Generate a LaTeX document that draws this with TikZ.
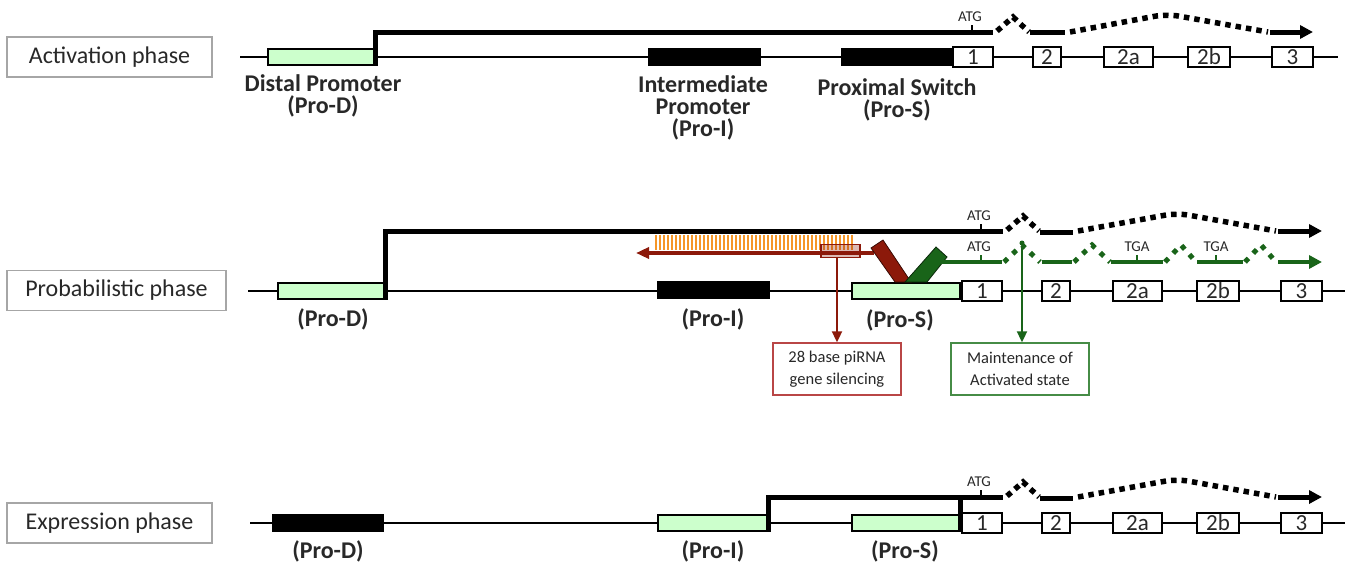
\documentclass[tikz,border=0pt]{standalone}
\usepackage{fontspec}
\setmainfont{Carlito}
\usetikzlibrary{arrows.meta}
\definecolor{lgreen}{RGB}{204,255,204}
\definecolor{dred}{RGB}{140,25,10}
\definecolor{dgreen}{RGB}{25,100,25}
\definecolor{hatchc}{RGB}{245,150,40}
\definecolor{boxred}{RGB}{185,70,70}
\definecolor{boxgreen}{RGB}{70,140,70}
\definecolor{txt}{RGB}{40,40,40}
\begin{document}
\begin{tikzpicture}[x=1pt,y=-1pt,
 phase/.style={draw=black!35,line width=1.2pt,minimum height=40pt,inner sep=0,font=\fontsize{24}{26}\selectfont,text=txt},
 dna/.style={line width=2pt},
 exon/.style={draw,line width=1.4pt,fill=white,minimum height=20pt,inner sep=0,font=\fontsize{23}{23}\selectfont,text=txt},
 promA/.style={draw,line width=1.6pt,fill=lgreen,minimum height=16pt,inner sep=0},
 promB/.style={draw,line width=1.6pt,fill=black,minimum height=16pt,inner sep=0},
 lab/.style={font=\bfseries\fontsize{24}{22}\selectfont,align=center,text=txt,inner sep=0},
 tx/.style={line width=5pt},
 dots/.style={line width=5.5pt,dash pattern=on 5.5pt off 5pt},
 gtx/.style={line width=4pt,dgreen},
 gdots/.style={line width=5pt,dgreen,dash pattern=on 5pt off 7pt},
 tick/.style={line width=1.2pt},
 small/.style={font=\fontsize{15}{15}\selectfont,text=txt,inner sep=0,anchor=south},
 tip/.style={-{Triangle[length=13pt,width=13pt]}},
 infobox/.style={line width=1.4pt,fill=white,minimum height=52pt,inner sep=0,align=center,font=\fontsize{16.5}{22}\selectfont,text=txt}
]
\useasboundingbox (0,0) rectangle (1355,570);

%================ Row 1: Activation phase
\node[phase,minimum width=205pt] (ph1) at (109.5,57) {Activation phase};
\coordinate (d1l) at (240,57); \coordinate (d1r) at (1338,57);
\draw[dna] (d1l) -- (d1r);
\node[promA,minimum width=107pt] (pd1) at (321.5,57) {};
\node[promB,minimum width=111pt] (pi1) at (704.5,57) {};
\node[promB,minimum width=111pt] (ps1) at (897.5,57) {};
\node[exon,minimum width=40pt] (e1a) at (973,57) {1};
\node[exon,minimum width=28pt] (e1b) at (1047,57) {2};
\node[exon,minimum width=49pt] (e1c) at (1128.5,57) {2a};
\node[exon,minimum width=42pt] (e1d) at (1209,57) {2b};
\node[exon,minimum width=41pt] (e1e) at (1292.5,57) {3};
\node[lab] (l1d) at (323,96) {Distal Promoter\\(Pro-D)};
\node[lab] (l1i) at (703,108) {Intermediate\\Promoter\\(Pro-I)};
\node[lab] (l1s) at (897,100) {Proximal Switch\\(Pro-S)};
% transcript
\coordinate (t1a) at (993,32);
\draw[tx] (pd1.south east) |- (t1a);
\coordinate (k1) at (972,32);
\draw[tick] (k1) -- ++(0,-7) coordinate (k1t);
\node[small] (atg1) at (970,22) {ATG};
\coordinate (s1a) at (997,31); \coordinate (s1p) at (1013,17); \coordinate (s1b) at (1029,32);
\draw[dots] (s1a) -- (s1p) -- (s1b);
\coordinate (x1a) at (1030,32); \coordinate (x1b) at (1065,32);
\draw[tx] (x1a) -- (x1b);
\coordinate (s1c) at (1070,32); \coordinate (s1q) at (1167,14); \coordinate (s1d) at (1268,32);
\draw[dots,rounded corners=12pt] (s1c) -- (s1q) -- (s1d);
\coordinate (x1c) at (1270,32); \coordinate (x1d) at (1313,32);
\draw[tx,tip] (x1c) -- (x1d);

%================ Row 2: Probabilistic phase
\node[phase,minimum width=219pt] (ph2) at (116.5,290.5) {Probabilistic phase};
\coordinate (d2l) at (248,291); \coordinate (d2r) at (1345,291);
\draw[dna] (d2l) -- (d2r);
\node[promA,minimum width=107pt] (pd2) at (331.5,291) {};
\node[promB,minimum width=111pt] (pi2) at (713.5,290) {};
% hatch
\foreach \x in {656,660,...,854} \draw[hatchc,line width=1.6pt] (\x,235) -- (\x,250);
\node[promA,minimum width=108pt] (ps2) at (906,291) {};
\node[exon,minimum width=40pt] (e2a) at (982,291) {1};
\node[exon,minimum width=28pt] (e2b) at (1056,291) {2};
\node[exon,minimum width=49pt] (e2c) at (1137.5,291) {2a};
\node[exon,minimum width=42pt] (e2d) at (1218,291) {2b};
\node[exon,minimum width=41pt] (e2e) at (1301.5,291) {3};
\node[lab] (l2d) at (333,319) {(Pro-D)};
\node[lab] (l2i) at (713,319) {(Pro-I)};
\node[lab] (l2s) at (900,320) {(Pro-S)};
% black transcript
\coordinate (t2a) at (1003,231);
\draw[tx] (pd2.south east) |- (t2a);
\coordinate (k2) at (981,231);
\draw[tick] (k2) -- ++(0,-7) coordinate (k2t);
\node[small] (atg2) at (979,221) {ATG};
\coordinate (s2a) at (1007,230); \coordinate (s2p) at (1023,216); \coordinate (s2b) at (1039,231);
\draw[dots] (s2a) -- (s2p) -- (s2b);
\coordinate (x2a) at (1040,232); \coordinate (x2b) at (1073,232);
\draw[tx] (x2a) -- (x2b);
\coordinate (s2c) at (1078,231); \coordinate (s2q) at (1177,213); \coordinate (s2d) at (1276,231);
\draw[dots,rounded corners=12pt] (s2c) -- (s2q) -- (s2d);
\coordinate (x2c) at (1278,231); \coordinate (x2d) at (1322,231);
\draw[tx,tip] (x2c) -- (x2d);
% red piRNA arrow
\coordinate (r0) at (874,253); \coordinate (r1) at (636,253);
\draw[dred,line width=3.5pt,-{Triangle[length=13pt,width=11pt]}] (r0) -- (r1);
\node[draw=dred,line width=1.6pt,fill=dred,fill opacity=0.3,draw opacity=1,minimum width=39pt,minimum height=13pt,inner sep=0] (sel) at (840.5,251) {};
% V bars
\filldraw[fill=dred,draw=black!60!dred,line width=0.8pt] (871,248) -- (883,240) -- (911,282) -- (895,282) -- cycle;
\filldraw[fill=dgreen,draw=black!60!dgreen,line width=0.8pt] (905,282) -- (936,247) -- (947,257) -- (927,282) -- cycle;
% green transcript
\coordinate (g0) at (940,262); \coordinate (g1) at (1002,262);
\draw[gtx] (g0) -- (g1);
\coordinate (gk1) at (981,262);
\draw[tick,dgreen] (gk1) -- ++(0,-7) coordinate (gk1t);
\node[small] (atg3) at (979,252) {ATG};
\draw[gdots] (1004,262) -- (1022,245) -- (1040,262);
\draw[gtx] (1042,262) -- (1072,262);
\draw[gdots] (1074,262) -- (1092,245) -- (1110,262);
\draw[gtx] (1111,262) -- (1163,262);
\coordinate (gk2) at (1137,262);
\draw[tick,dgreen] (gk2) -- ++(0,-7) coordinate (gk2t);
\node[small] (tga1) at (1137,252) {TGA};
\draw[gdots] (1165,262) -- (1181,245) -- (1196,262);
\draw[gtx] (1197,262) -- (1243,262);
\coordinate (gk3) at (1216,262);
\draw[tick,dgreen] (gk3) -- ++(0,-7) coordinate (gk3t);
\node[small] (tga2) at (1216,252) {TGA};
\draw[gdots] (1245,262) -- (1261,245) -- (1276,262);
\draw[gtx,tip] (1278,262) -- (1322,262);
% info boxes
\node[infobox,draw=boxred,minimum width=128pt] (pirna) at (837,369) {28 base piRNA\\gene silencing};
\node[infobox,draw=boxgreen,minimum width=138pt] (maint) at (1020,369) {Maintenance of\\Activated state};
\draw[dred,line width=2pt,-{Triangle[length=11pt,width=10pt]}] (sel.south -| pirna.north) -- (pirna.north);
\coordinate (gv) at (1022,246);
\draw[dgreen,line width=2pt,-{Triangle[length=11pt,width=10pt]}] (gv) -- (gv |- maint.north);
\fill[dgreen] (1022,243) circle (2.5pt);

%================ Row 3: Expression phase
\node[phase,minimum width=205pt] (ph3) at (109.5,523) {Expression phase};
\coordinate (d3l) at (250,523); \coordinate (d3r) at (1345,523);
\draw[dna] (d3l) -- (d3r);
\node[promB,minimum width=110pt] (pd3) at (328,523) {};
\node[promA,minimum width=110pt] (pi3) at (713,523) {};
\node[promA,minimum width=108pt] (ps3) at (906,523) {};
\node[exon,minimum width=40pt] (e3a) at (982,523) {1};
\node[exon,minimum width=28pt] (e3b) at (1056,523) {2};
\node[exon,minimum width=49pt] (e3c) at (1137.5,523) {2a};
\node[exon,minimum width=42pt] (e3d) at (1218,523) {2b};
\node[exon,minimum width=41pt] (e3e) at (1301.5,523) {3};
\node[lab] (l3d) at (328,551) {(Pro-D)};
\node[lab] (l3i) at (713,551) {(Pro-I)};
\node[lab] (l3s) at (905,551) {(Pro-S)};
\coordinate (t3a) at (1003,497);
\draw[tx] (pi3.south east) |- (t3a);
\draw[tx] (ps3.south east) -- (ps3.south east |- t3a);
\coordinate (k3) at (981,497);
\draw[tick] (k3) -- ++(0,-7) coordinate (k3t);
\node[small] (atg4) at (979,487) {ATG};
\coordinate (s3a) at (1007,496); \coordinate (s3p) at (1023,482); \coordinate (s3b) at (1039,497);
\draw[dots] (s3a) -- (s3p) -- (s3b);
\coordinate (x3a) at (1040,498); \coordinate (x3b) at (1073,498);
\draw[tx] (x3a) -- (x3b);
\coordinate (s3c) at (1078,497); \coordinate (s3q) at (1177,479); \coordinate (s3d) at (1276,497);
\draw[dots,rounded corners=12pt] (s3c) -- (s3q) -- (s3d);
\coordinate (x3c) at (1278,497); \coordinate (x3d) at (1322,497);
\draw[tx,tip] (x3c) -- (x3d);
\end{tikzpicture}
\end{document}
